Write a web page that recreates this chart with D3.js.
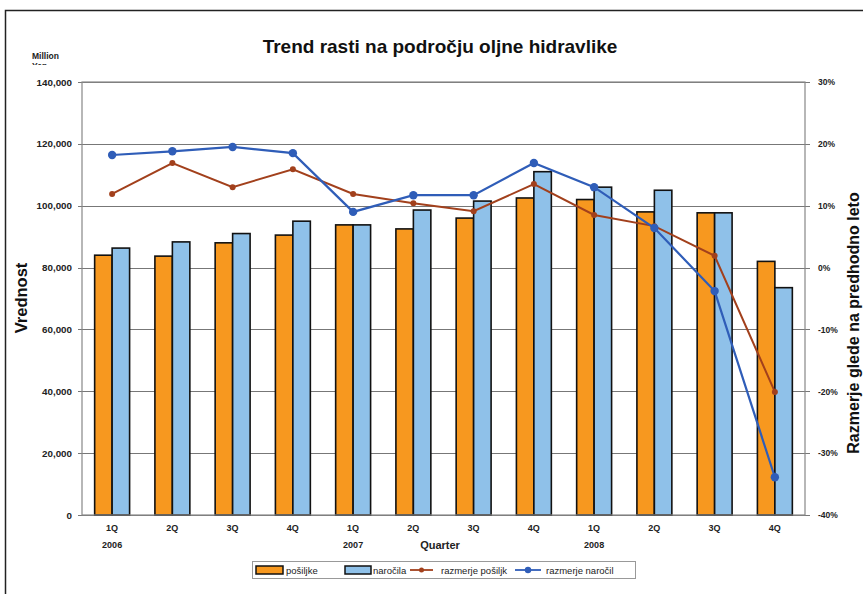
<!DOCTYPE html>
<html><head><meta charset="utf-8">
<script src="https://cdn.jsdelivr.net/npm/d3@7"></script>
<style>body{margin:0;background:#fff}svg{display:block;font-family:"Liberation Sans",Arial,sans-serif}</style>
</head><body><svg id="c" width="863" height="594"></svg>
<script>
const quarters = ["1Q","2Q","3Q","4Q","1Q","2Q","3Q","4Q","1Q","2Q","3Q","4Q"];
const years = ["2006","","","","2007","","","","2008","","",""];
const posiljke = [84000,83700,88000,90500,93800,92500,96000,102500,102000,98000,97700,82000];
const narocila = [86300,88300,91000,95000,93800,98600,101500,111000,106000,105000,97700,73500];
const razmerjePosiljk = [11.9,16.9,13.0,15.9,11.9,10.4,9.1,13.5,8.5,6.7,1.9,-20.1];
const razmerjeNarocil = [18.2,18.8,19.5,18.5,9.0,11.7,11.7,16.9,13.0,6.4,-3.8,-33.9];
const leftTicks = [0,20000,40000,60000,80000,100000,120000,140000];
const rightTicks = [-40,-30,-20,-10,0,10,20,30];

const svg = d3.select("#c");
const L=82,R=805,T=82,B=515;
const idx = d3.range(quarters.length);
const x = d3.scaleBand().domain(idx).range([L,R]).paddingInner(0.42).paddingOuter(0.21);
const xs = d3.scaleBand().domain(["p","n"]).range([0,x.bandwidth()]);
const y = d3.scaleLinear().domain([0,140000]).range([B,T]);
const y2 = d3.scaleLinear().domain([-40,30]).range([B,T]);
const cx = i => L + (R-L)/quarters.length*(i+0.5);

// outer border
svg.append("path").attr("d","M5.5,600 V10.5 H870").attr("fill","none").attr("stroke","#222").attr("stroke-width",1.5);

// title
svg.append("text").attr("x",440).attr("y",53).attr("text-anchor","middle")
  .attr("font-size",19).attr("font-weight","bold").attr("fill","#111").text("Trend rasti na področju oljne hidravlike");

// unit
svg.append("text").attr("x",32).attr("y",59).attr("font-size",8.5).attr("font-weight","bold").attr("fill","#222").text("Million");
svg.append("clipPath").attr("id","yc").append("rect").attr("x",20).attr("y",60).attr("width",40).attr("height",5);
svg.append("text").attr("x",32).attr("y",69).attr("font-size",8.5).attr("font-weight","bold").attr("fill","#222").attr("clip-path","url(#yc)").text("Yen");

// grid
const g = svg.append("g");
g.selectAll("line.grid").data(leftTicks).join("line")
  .attr("x1",L-4).attr("x2",R+5).attr("y1",d=>Math.round(y(d))+0.5).attr("y2",d=>Math.round(y(d))+0.5)
  .attr("stroke","#777").attr("stroke-width",1.2);

// left axis
const ax = d3.axisLeft(y).tickValues(leftTicks).tickSize(0).tickPadding(10).tickFormat(d3.format(","));
const ag = svg.append("g").attr("transform",`translate(${L},0)`).call(ax);
ag.select(".domain").remove();
ag.selectAll("text").attr("font-size",9.8).attr("font-weight","bold").attr("fill","#222").attr("font-family","Liberation Sans, Arial");

// right axis
const ax2 = d3.axisRight(y2).tickValues(rightTicks).tickSize(0).tickPadding(13).tickFormat(d=>d+"%");
const ag2 = svg.append("g").attr("transform",`translate(${R},0)`).call(ax2);
ag2.select(".domain").remove();
ag2.selectAll("text").attr("font-size",8.5).attr("font-weight","bold").attr("fill","#222").attr("font-family","Liberation Sans, Arial");

// bars
const bars = svg.append("g");
bars.selectAll("rect.p").data(idx).join("rect")
  .attr("x",i=>x(i)).attr("width",xs.bandwidth()).attr("y",i=>y(posiljke[i])).attr("height",i=>B-y(posiljke[i]))
  .attr("fill","#F7981F").attr("stroke","#111").attr("stroke-width",1.6);
bars.selectAll("rect.n").data(idx).join("rect")
  .attr("x",i=>x(i)+xs("n")).attr("width",xs.bandwidth()).attr("y",i=>y(narocila[i])).attr("height",i=>B-y(narocila[i]))
  .attr("fill","#8FC1E9").attr("stroke","#111").attr("stroke-width",1.6);

// plot frame
svg.append("rect").attr("x",L).attr("y",T).attr("width",R-L).attr("height",B-T)
  .attr("fill","none").attr("stroke","#888").attr("stroke-width",1.2);

// lines
const line = d3.line().x((d,i)=>cx(i));
svg.append("path").datum(razmerjePosiljk).attr("d",line.y(d=>y2(d))).attr("fill","none").attr("stroke","#A2401C").attr("stroke-width",2);
svg.selectAll("circle.rp").data(razmerjePosiljk).join("circle").attr("cx",(d,i)=>cx(i)).attr("cy",d=>y2(d)).attr("r",3).attr("fill","#A2401C");
svg.append("path").datum(razmerjeNarocil).attr("d",line.y(d=>y2(d))).attr("fill","none").attr("stroke","#2F5DB8").attr("stroke-width",2.2);
svg.selectAll("circle.rn").data(razmerjeNarocil).join("circle").attr("cx",(d,i)=>cx(i)).attr("cy",d=>y2(d)).attr("r",4.2).attr("fill","#2F5DB8");

// x labels
svg.selectAll("text.q").data(idx).join("text").attr("x",i=>cx(i)).attr("y",531).attr("text-anchor","middle")
  .attr("font-size",9).attr("font-weight","bold").attr("fill","#222").text(i=>quarters[i]);
svg.selectAll("text.yr").data(idx.filter(i=>years[i])).join("text").attr("x",i=>cx(i)).attr("y",548).attr("text-anchor","middle")
  .attr("font-size",9).attr("font-weight","bold").attr("fill","#222").text(i=>years[i]);
svg.append("text").attr("x",440).attr("y",549).attr("text-anchor","middle").attr("font-size",11).attr("font-weight","bold").attr("fill","#222").text("Quarter");

// axis titles
svg.append("text").attr("transform","translate(27,298) rotate(-90)").attr("text-anchor","middle")
  .attr("font-size",16.5).attr("font-weight","bold").attr("fill","#111").text("Vrednost");
svg.append("text").attr("transform","translate(859,323) rotate(-90)").attr("text-anchor","middle")
  .attr("font-size",16).attr("font-weight","bold").attr("fill","#111").text("Razmerje glede na predhodno leto");

// legend
const lg = svg.append("g");
lg.append("rect").attr("x",252.5).attr("y",561.5).attr("width",383).attr("height",17).attr("fill","#fff").attr("stroke","#999");
lg.append("rect").attr("x",256).attr("y",566).attr("width",27).attr("height",8).attr("fill","#F7981F").attr("stroke","#111").attr("stroke-width",1.5);
lg.append("text").attr("x",286).attr("y",574).attr("font-size",9.5).attr("fill","#222").text("pošiljke");
lg.append("rect").attr("x",345).attr("y",566).attr("width",26).attr("height",8).attr("fill","#8FC1E9").attr("stroke","#111").attr("stroke-width",1.5);
lg.append("text").attr("x",373).attr("y",574).attr("font-size",9.5).attr("fill","#222").text("naročila");
lg.append("line").attr("x1",410).attr("x2",433).attr("y1",570).attr("y2",570).attr("stroke","#A2401C").attr("stroke-width",1.8);
lg.append("circle").attr("cx",421.5).attr("cy",570).attr("r",2.5).attr("fill","#A2401C");
lg.append("text").attr("x",441).attr("y",574).attr("font-size",9.5).attr("fill","#222").text("razmerje pošiljk");
lg.append("line").attr("x1",515).attr("x2",541).attr("y1",570).attr("y2",570).attr("stroke","#2F5DB8").attr("stroke-width",1.8);
lg.append("circle").attr("cx",528).attr("cy",570).attr("r",3.2).attr("fill","#2F5DB8");
lg.append("text").attr("x",546).attr("y",574).attr("font-size",9.5).attr("fill","#222").text("razmerje naročil");
</script></body></html>
